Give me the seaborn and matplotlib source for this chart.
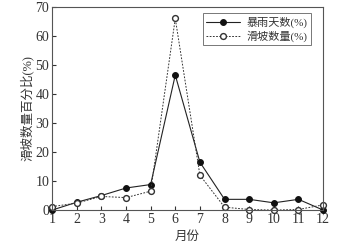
import matplotlib
matplotlib.use("Agg")
import matplotlib.pyplot as plt
import pandas as pd
import seaborn as sns

months = list(range(1, 13))
rain_days = [0, 2.7, 5.0, 7.6, 8.8, 46.5, 16.5, 3.7, 3.7, 2.5, 3.7, 0]
slide_count = [1.2, 2.4, 4.7, 4.3, 6.5, 66.0, 12.0, 1.0, 0.2, 0, 0.2, 1.8]

df = pd.DataFrame({"month": months, "rain": rain_days, "slide": slide_count})

sns.set_style("ticks")
plt.rcParams['font.family'] = ['Liberation Serif', 'Noto Sans CJK SC']
plt.rcParams['axes.linewidth'] = 0.8

fig = plt.figure(figsize=(3.38, 2.46), dpi=100)
ax = fig.add_axes([0.154, 0.146, 0.802, 0.826])

sns.lineplot(data=df, x="month", y="rain", ax=ax, color="#222222", lw=0.8,
             marker="o", markersize=4.2, markerfacecolor="#111111",
             markeredgecolor="#111111", label="暴雨天数(%)", clip_on=False)
sns.lineplot(data=df, x="month", y="slide", ax=ax, color="#333333", lw=0.7,
             linestyle=(0, (1.8, 1.5)), marker="o", markersize=4.2,
             markerfacecolor="white", markeredgecolor="#333333",
             markeredgewidth=1.0, label="滑坡数量(%)", clip_on=False)

ax.set_xlim(1, 12)
ax.set_ylim(0, 70)
ax.set_xticks(months)
ax.set_yticks(range(0, 71, 10))
ax.tick_params(direction="in", length=3, width=0.8, labelsize=10,
               colors="#333333", pad=2)
for s in ax.spines.values():
    s.set_color("#555555")
ax.set_xlabel("月份", fontsize=9, color="#333333", labelpad=4)
ax.set_ylabel("滑坡数量百分比(%)", fontsize=9, color="#333333", labelpad=1)

leg = ax.legend(loc="upper right", fontsize=8, frameon=True, fancybox=False,
                edgecolor="#555555", handlelength=3.0, borderpad=0.3,
                labelspacing=0.2, handletextpad=0.6,
                bbox_to_anchor=(0.975, 0.995))
leg.get_frame().set_linewidth(0.7)
for t in leg.get_texts():
    t.set_color("#333333")

fig.savefig("out.png", dpi=100)
